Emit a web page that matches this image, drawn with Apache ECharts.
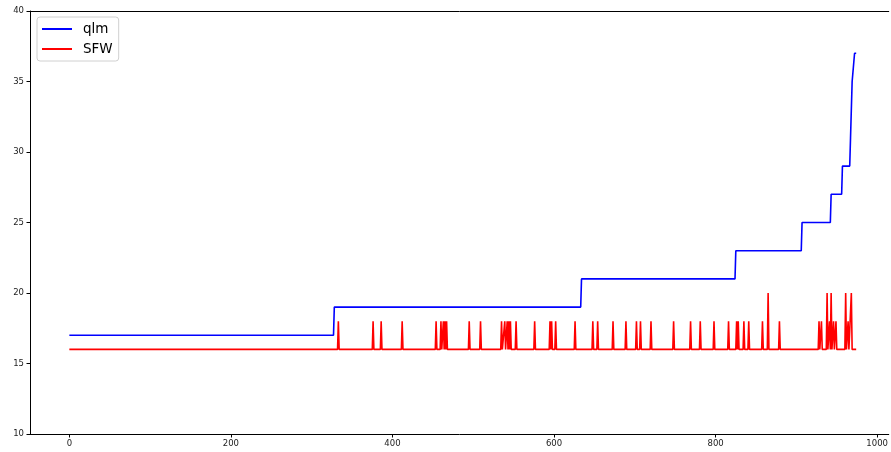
<!DOCTYPE html>
<html>
<head>
<meta charset="utf-8">
<script src="https://cdn.jsdelivr.net/npm/echarts@6/dist/echarts.min.js"></script>
<style>
html,body{margin:0;padding:0;background:#fff;}
#chart{width:891px;height:452px;}
</style>
</head>
<body>
<div id="chart"></div>
<script>
// qlm step line vertices (x index, value)
var qlmX = [0, 327, 328, 633, 634, 824, 825, 906, 907, 942, 943, 956, 957, 966, 967, 968, 969, 971, 972, 974];
var qlmY = [17, 17, 19, 19, 21, 21, 23, 23, 25, 25, 27, 27, 29, 29, 31, 31, 35, 35, 37, 37];

// SFW line vertices (x index, value)
var sfwX = [0,
  332,333,334, 375,376,377, 385,386,387, 411,412,413, 453,454,455,
  459,460,461, 462,463,464, 465,466, 467,468, 494,495,496, 508,509,510,
  534,535,536, 538,539,540, 541,542,543, 544,545, 546,547, 552,553,554,
  575,576,577, 594,595,596, 597,598, 601,602,603, 625,626,627, 647,648,649,
  653,654,655, 672,673,674, 688,689,690, 701,702,703, 706,707,708, 719,720,721,
  747,748,749, 768,769,770, 780,781,782, 797,798,799, 815,816,817,
  825,826,827, 828,829, 834,835,836, 840,841,842, 857,858,859, 864,865,866,
  878,879,880, 927,928,929, 930,931,932, 937,938,939, 940,941,942, 943,944,
  945,946,947, 948,949,950, 960,961,962, 963,964,965, 967,968,969, 974];
var sfwY = [16,
  16,18,16, 16,18,16, 16,18,16, 16,18,16, 16,18,16,
  16,18,16, 16,18,16, 18,16, 18,16, 16,18,16, 16,18,16,
  16,18,16, 16,18,16, 16,18,16, 18,16, 18,16, 16,18,16,
  16,18,16, 16,18,16, 18,16, 16,18,16, 16,18,16, 16,18,16,
  16,18,16, 16,18,16, 16,18,16, 16,18,16, 16,18,16, 16,18,16,
  16,18,16, 16,18,16, 16,18,16, 16,18,16, 16,18,16,
  16,18,16, 18,16, 16,18,16, 16,18,16, 16,18,16, 16,20,16,
  16,18,16, 16,18,16, 16,18,16, 16,20,16, 16,18,16, 20,16,
  16,18,16, 16,18,16, 16,20,16, 16,18,16, 16,20,16, 16];

var xTicks = [0, 200, 400, 600, 800, 1000];
var yTicks = [10, 15, 20, 25, 30, 35, 40];

function zip(xs, ys) {
  var out = [];
  for (var i = 0; i < xs.length; i++) out.push([xs[i], ys[i]]);
  return out;
}

var chart = echarts.init(document.getElementById('chart'), null, {renderer: 'canvas'});
var font = 'DejaVu Sans';
var xMin = -48.7, xMax = 1014.3;
chart.setOption({
  animation: false,
  backgroundColor: '#ffffff',
  grid: {
    left: 30, top: 11, bottom: 18, right: 0,
    show: false, containLabel: false
  },
  legend: {
    left: 37, top: 17,
    orient: 'vertical',
    icon: 'rect',
    itemWidth: 30, itemHeight: 2,
    itemGap: 6,
    padding: [5, 6, 5, 5],
    borderColor: '#d0d0d0', borderWidth: 1, borderRadius: 3,
    backgroundColor: '#fff',
    textStyle: {fontFamily: font, fontSize: 13.5, color: '#000', padding: [0, 0, 0, 6]},
    data: ['qlm', 'SFW']
  },
  xAxis: [{
    type: 'value', position: 'bottom',
    min: xMin, max: xMax,
    axisLine: {show: true, onZero: false, lineStyle: {color: '#000', width: 1}},
    axisTick: {show: true, length: 3.5, customValues: xTicks, lineStyle: {color: '#000'}},
    axisLabel: {customValues: xTicks, fontFamily: font, fontSize: 8.5, color: '#222', margin: 5,
      formatter: function (v) { return String(v); }},
    splitLine: {show: false}
  }, {
    type: 'value', position: 'top',
    min: xMin, max: xMax,
    axisLine: {show: true, onZero: false, lineStyle: {color: '#000', width: 1}},
    axisTick: {show: false},
    axisLabel: {show: false},
    splitLine: {show: false}
  }],
  yAxis: {
    type: 'value',
    min: 10, max: 40, interval: 5,
    axisLine: {show: true, onZero: false, lineStyle: {color: '#000', width: 1}},
    axisTick: {show: true, length: 3.5, lineStyle: {color: '#000'}},
    axisLabel: {fontFamily: font, fontSize: 8.5, color: '#222', margin: 6},
    splitLine: {show: false}
  },
  series: [
    {
      name: 'qlm', type: 'line', data: zip(qlmX, qlmY), xAxisIndex: 0,
      showSymbol: false, symbol: 'none',
      lineStyle: {color: '#0000ff', width: 1.6},
      itemStyle: {color: '#0000ff'}
    },
    {
      name: 'SFW', type: 'line', data: zip(sfwX, sfwY), xAxisIndex: 0,
      showSymbol: false, symbol: 'none',
      lineStyle: {color: '#ff0000', width: 1.6},
      itemStyle: {color: '#ff0000'}
    }
  ]
});
</script>
</body>
</html>
